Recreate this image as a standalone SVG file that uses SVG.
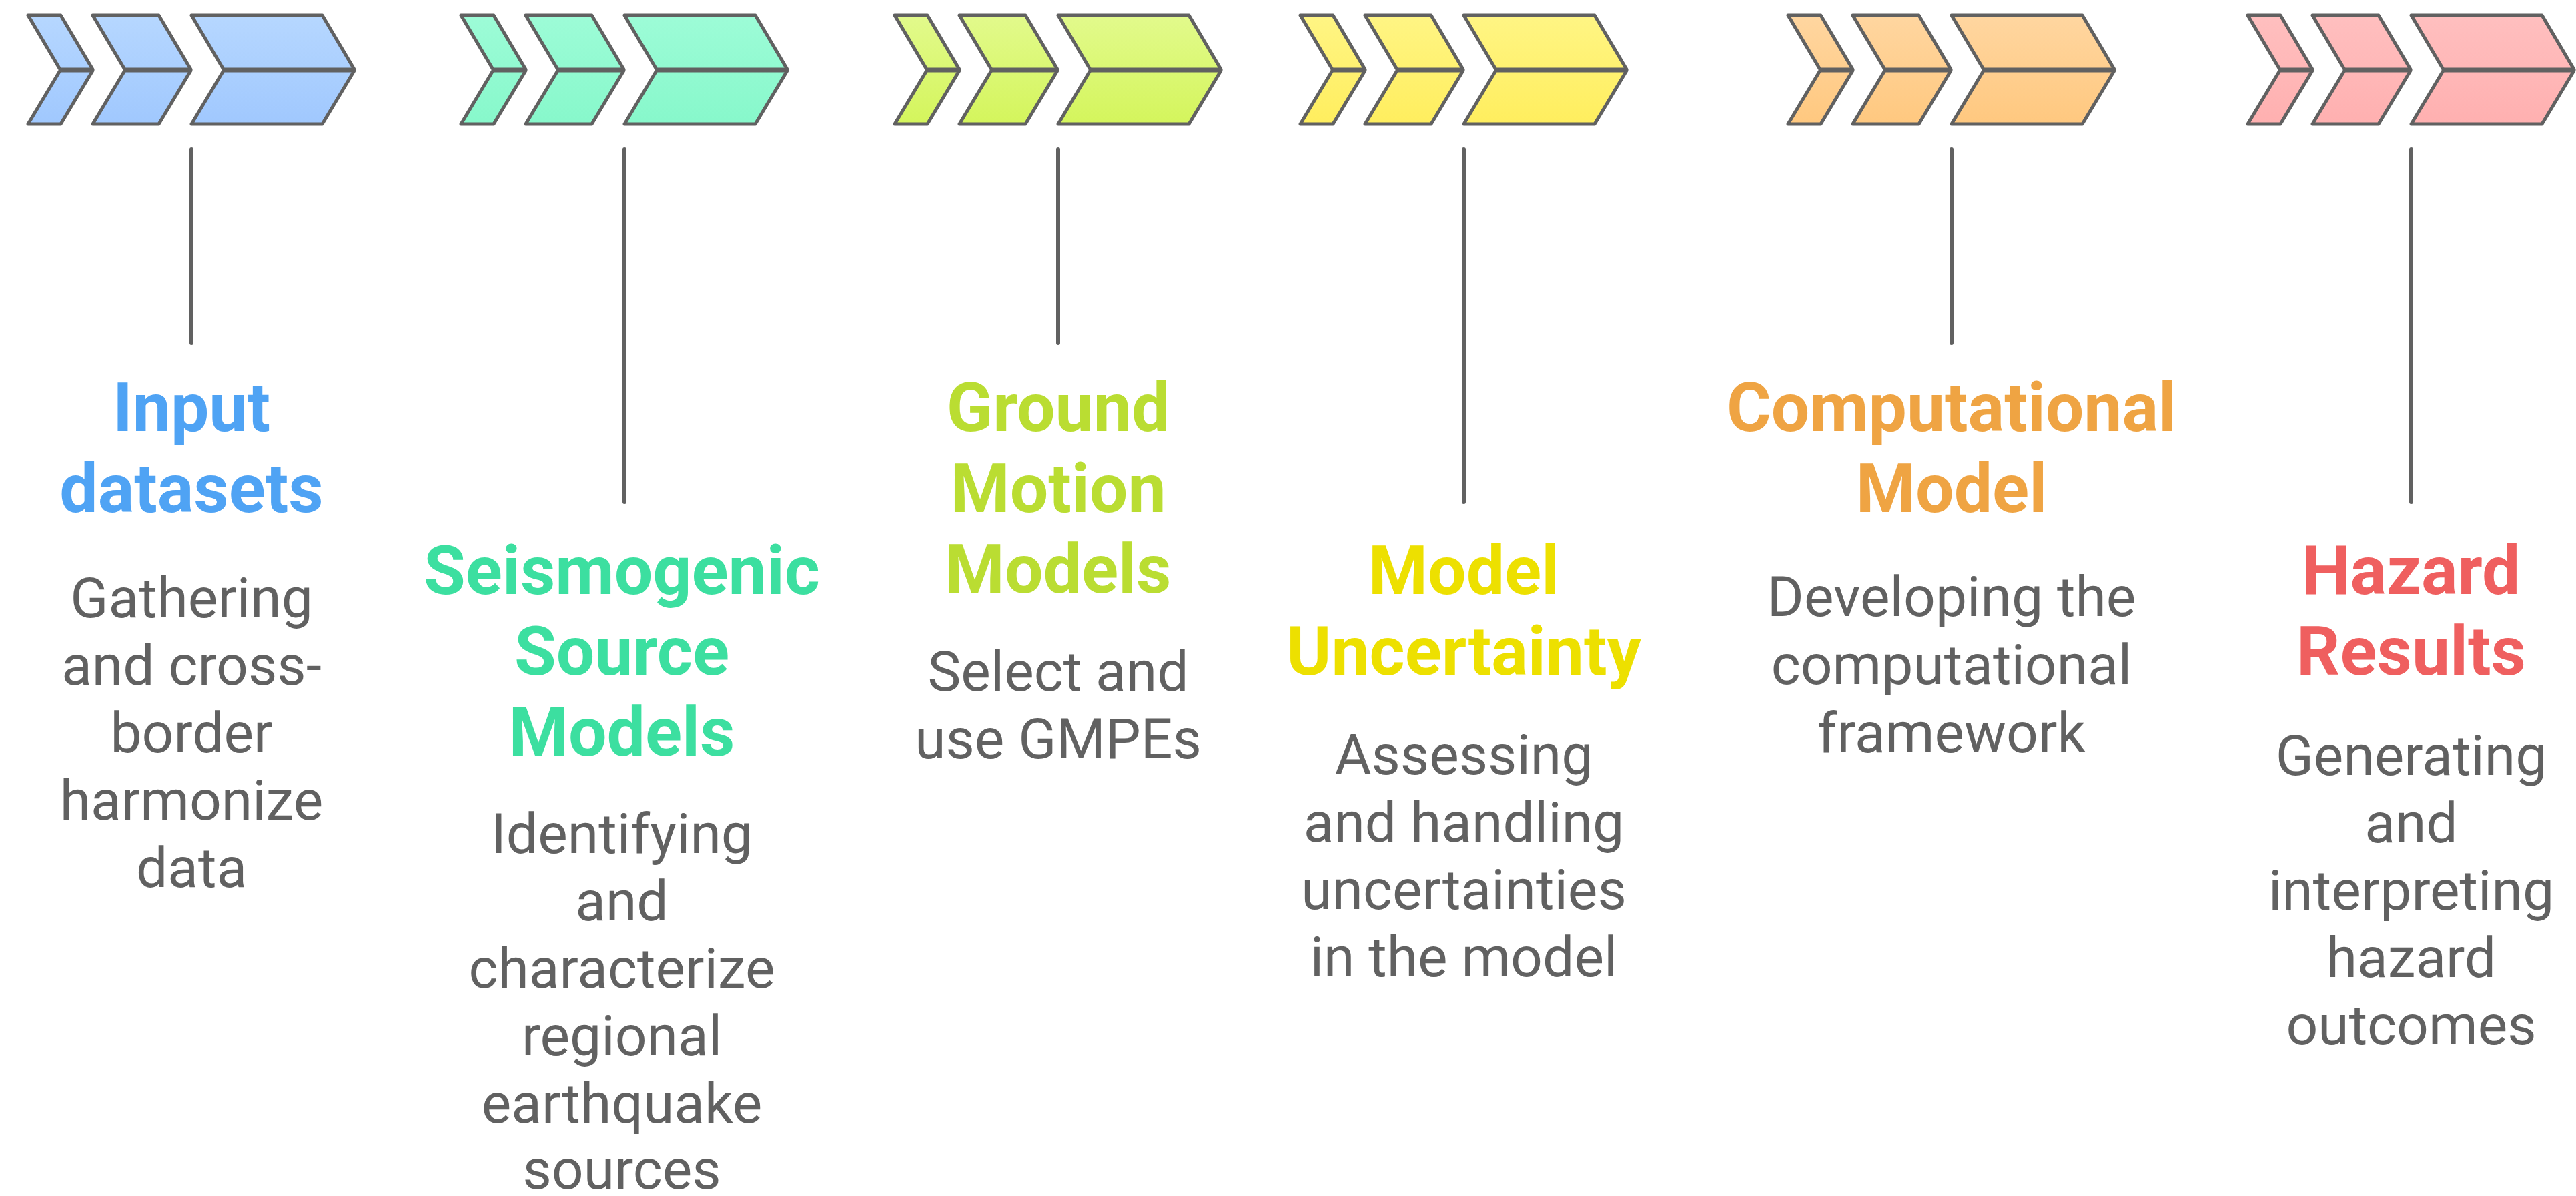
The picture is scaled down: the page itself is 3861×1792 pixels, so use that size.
<svg xmlns="http://www.w3.org/2000/svg" width="3861" height="1792" viewBox="0 0 3861 1792">
<defs>
<linearGradient id="gBlue" x1="0" y1="23" x2="0" y2="186" gradientUnits="userSpaceOnUse"><stop offset="0" stop-color="#B6D7FF"/><stop offset="1" stop-color="#A0C8FE"/></linearGradient>
<linearGradient id="gTeal" x1="0" y1="23" x2="0" y2="186" gradientUnits="userSpaceOnUse"><stop offset="0" stop-color="#9DFCD7"/><stop offset="1" stop-color="#87F8CB"/></linearGradient>
<linearGradient id="gLime" x1="0" y1="23" x2="0" y2="186" gradientUnits="userSpaceOnUse"><stop offset="0" stop-color="#E2FA8C"/><stop offset="1" stop-color="#D4F55C"/></linearGradient>
<linearGradient id="gYellow" x1="0" y1="23" x2="0" y2="186" gradientUnits="userSpaceOnUse"><stop offset="0" stop-color="#FFF584"/><stop offset="1" stop-color="#FFEE5E"/></linearGradient>
<linearGradient id="gOrange" x1="0" y1="23" x2="0" y2="186" gradientUnits="userSpaceOnUse"><stop offset="0" stop-color="#FFD6A0"/><stop offset="1" stop-color="#FFC87F"/></linearGradient>
<linearGradient id="gPink" x1="0" y1="23" x2="0" y2="186" gradientUnits="userSpaceOnUse"><stop offset="0" stop-color="#FFBFBF"/><stop offset="1" stop-color="#FFB0B0"/></linearGradient>
<g id="chev">
<path d="M0,23 H49 L97,104 H48 Z"/>
<path d="M48,106 H97 L49,186 H0 Z"/>
<path d="M97,23 H196 L244,104 H145 Z"/>
<path d="M145,106 H244 L196,186 H97 Z"/>
<path d="M245,23 H441 L489,104 H293 Z"/>
<path d="M293,106 H489 L441,186 H245 Z"/>
</g>
</defs>
<style>
.conn line { stroke: #616161; stroke-width: 6; stroke-linecap: round; }
.title { font-family: Roboto, "Liberation Sans", sans-serif; font-weight: 700; font-size: 102px; text-anchor: middle; }
.body { font-family: Roboto, "Liberation Sans", sans-serif; font-weight: 400; font-size: 84px; fill: #616161; text-anchor: middle; }
</style>
<rect width="3861" height="1792" fill="#FFFFFF"/>

<g id="connectors" class="conn">
<line x1="287" y1="224" x2="287" y2="514"/>
<line x1="936" y1="224" x2="936" y2="752"/>
<line x1="1586" y1="224" x2="1586" y2="514"/>
<line x1="2194" y1="224" x2="2194" y2="752"/>
<line x1="2925" y1="224" x2="2925" y2="514"/>
<line x1="3614" y1="224" x2="3614" y2="752"/>
</g>

<g id="node-input">
<g transform="translate(42,0)" fill="url(#gBlue)" stroke="#616161" stroke-width="5" stroke-linejoin="round"><use href="#chev"/></g>
<text class="title" fill="#4FA3F4"><tspan x="287" y="646">Input</tspan><tspan x="287" y="767">datasets</tspan></text>
<text class="body"><tspan x="287" y="925">Gathering</tspan><tspan x="287" y="1026">and cross-</tspan><tspan x="287" y="1127">border</tspan><tspan x="287" y="1228">harmonize</tspan><tspan x="287" y="1329">data</tspan></text>
</g>

<g id="node-seismogenic">
<g transform="translate(691,0)" fill="url(#gTeal)" stroke="#616161" stroke-width="5" stroke-linejoin="round"><use href="#chev"/></g>
<text class="title" fill="#3CDFA0"><tspan x="932" y="890">Seismogenic</tspan><tspan x="932" y="1011">Source</tspan><tspan x="932" y="1132">Models</tspan></text>
<text class="body"><tspan x="932" y="1278">Identifying</tspan><tspan x="932" y="1379">and</tspan><tspan x="932" y="1480">characterize</tspan><tspan x="932" y="1581">regional</tspan><tspan x="932" y="1682">earthquake</tspan><tspan x="932" y="1781">sources</tspan></text>
</g>

<g id="node-ground">
<g transform="translate(1341,0)" fill="url(#gLime)" stroke="#616161" stroke-width="5" stroke-linejoin="round"><use href="#chev"/></g>
<text class="title" fill="#BADD32"><tspan x="1586" y="646">Ground</tspan><tspan x="1586" y="767">Motion</tspan><tspan x="1586" y="888">Models</tspan></text>
<text class="body"><tspan x="1586" y="1035">Select and</tspan><tspan x="1586" y="1136">use GMPEs</tspan></text>
</g>

<g id="node-uncertainty">
<g transform="translate(1949,0)" fill="url(#gYellow)" stroke="#616161" stroke-width="5" stroke-linejoin="round"><use href="#chev"/></g>
<text class="title" fill="#EDE000"><tspan x="2194" y="890">Model</tspan><tspan x="2194" y="1011">Uncertainty</tspan></text>
<text class="body"><tspan x="2194" y="1160">Assessing</tspan><tspan x="2194" y="1261">and handling</tspan><tspan x="2194" y="1362">uncertainties</tspan><tspan x="2194" y="1463">in the model</tspan></text>
</g>

<g id="node-computational">
<g transform="translate(2680,0)" fill="url(#gOrange)" stroke="#616161" stroke-width="5" stroke-linejoin="round"><use href="#chev"/></g>
<text class="title" fill="#EFA443"><tspan x="2925" y="646">Computational</tspan><tspan x="2925" y="767">Model</tspan></text>
<text class="body"><tspan x="2925" y="923">Developing the</tspan><tspan x="2925" y="1025">computational</tspan><tspan x="2925" y="1127">framework</tspan></text>
</g>

<g id="node-hazard">
<g transform="translate(3369,0)" fill="url(#gPink)" stroke="#616161" stroke-width="5" stroke-linejoin="round"><use href="#chev"/></g>
<text class="title" fill="#EF5F5F"><tspan x="3614" y="890">Hazard</tspan><tspan x="3614" y="1011">Results</tspan></text>
<text class="body"><tspan x="3614" y="1161">Generating</tspan><tspan x="3614" y="1262">and</tspan><tspan x="3614" y="1363">interpreting</tspan><tspan x="3614" y="1464">hazard</tspan><tspan x="3614" y="1565">outcomes</tspan></text>
</g>
</svg>
